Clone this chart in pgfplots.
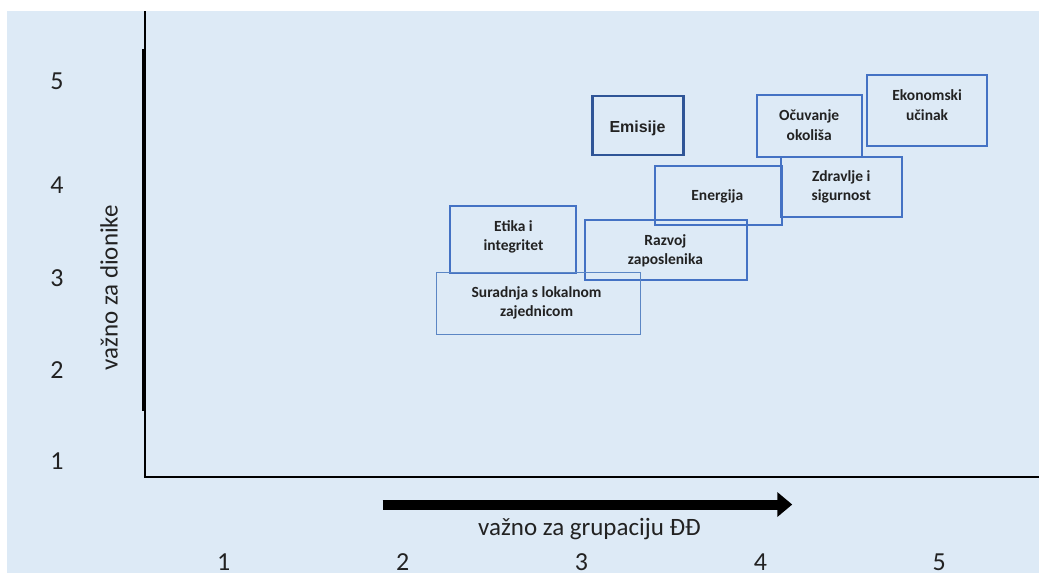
\documentclass[border=0pt]{standalone}
\usepackage{pgfplots}
\pgfplotsset{compat=1.18}
\usepackage{fontspec}
\setmainfont{Carlito}
\newfontfamily\arialfont{Liberation Sans}
\usetikzlibrary{arrows.meta}
\definecolor{bgblue}{HTML}{DDEAF6}
\definecolor{boxblue}{HTML}{4472C4}
\definecolor{darkblue}{HTML}{2F5597}
\definecolor{lightbox}{HTML}{5B86C4}
\definecolor{txt}{HTML}{222222}
\begin{document}
\begin{tikzpicture}
\begin{axis}[
  scale only axis, width=1040pt, height=574pt,
  xmin=-0.2496, xmax=5.5572, ymin=-0.1552, ymax=5.9060,
  axis line style={draw=none}, major tick length=0pt,
  axis background/.style={fill=bgblue},
  xtick={1,2,3,4,5}, xticklabels={1,2,3,4,5},
  ytick={1.03,2,2.97,3.95,5.05}, yticklabels={1,2,3,4,5},
  xticklabel style={anchor=center, yshift=11pt, font=\fontsize{26}{28}\selectfont, text=txt, inner sep=0pt},
  yticklabel style={anchor=center, xshift=57pt, font=\fontsize{26}{28}\selectfont, text=txt, inner sep=0pt},
  xlabel={važno za grupaciju ĐĐ},
  xlabel style={at={(axis description cs:0.5673,0.0767)}, anchor=center, font=\fontsize{25}{30}\selectfont, text=txt},
  ylabel={važno za dionike},
  ylabel style={at={(axis description cs:0.1048,0.4983)}, anchor=center, font=\fontsize{25}{30}\selectfont, text=txt},
  clip=false,
]
% white border strips
\fill[white] (rel axis cs:0,0) rectangle (rel axis cs:0.00673,1);
\fill[white] (rel axis cs:0,0.98084) rectangle (rel axis cs:1,1);
% axis lines
\draw[black, line width=1.6pt] (rel axis cs:0.13942,0.98084) -- (rel axis cs:0.13942,0.16899);
\draw[black, line width=3.5pt] (rel axis cs:0.13798,0.91463) -- (rel axis cs:0.13798,0.28397);
\draw[black, line width=2pt] (rel axis cs:0.13846,0.16899) -- (rel axis cs:1,0.16899);
% arrow
\draw[black, line width=10pt, -{Triangle[length=15pt,width=24pt]}] (rel axis cs:0.36827,0.12021) -- (rel axis cs:0.76250,0.12021);

% boxes
\addplot[darkblue, line width=2.6pt, mark=none] coordinates {(3.061,4.892) (3.570,4.892) (3.570,4.269) (3.061,4.269)} --cycle;
\addplot[boxblue, line width=2pt, mark=none] coordinates {(3.983,4.903) (4.569,4.903) (4.569,4.248) (3.983,4.248)} --cycle;
\addplot[boxblue, line width=2pt, mark=none] coordinates {(4.597,5.114) (5.267,5.114) (5.267,4.364) (4.597,4.364)} --cycle;
\addplot[boxblue, line width=2pt, mark=none] coordinates {(3.413,4.153) (4.122,4.153) (4.122,3.530) (3.413,3.530)} --cycle;
\addplot[boxblue, line width=2pt, mark=none] coordinates {(4.117,4.248) (4.792,4.248) (4.792,3.615) (4.117,3.615)} --cycle;
\addplot[boxblue, line width=2pt, mark=none] coordinates {(2.263,3.731) (2.972,3.731) (2.972,3.023) (2.263,3.023)} --cycle;
\addplot[boxblue, line width=2pt, mark=none] coordinates {(3.022,3.583) (3.927,3.583) (3.927,2.949) (3.022,2.949)} --cycle;
\addplot[lightbox, line width=1.2pt, mark=none] coordinates {(2.190,3.023) (3.329,3.023) (3.329,2.369) (2.190,2.369)} --cycle;

% labels
\node[text=txt, font=\arialfont\bfseries\fontsize{16}{19}\selectfont] at (axis cs:3.313,4.554) {Emisije};
\begin{scope}[every node/.style={text=txt, align=center, font=\bfseries\fontsize{15.5}{19.5}\selectfont}]
\node at (axis cs:4.273,4.586) {Očuvanje\\okoliša};
\node at (axis cs:4.932,4.797) {Ekonomski\\učinak};
\node at (axis cs:3.759,3.836) {Energija};
\node at (axis cs:4.452,3.931) {Zdravlje i\\sigurnost};
\node at (axis cs:2.620,3.403) {Etika i\\integritet};
\node at (axis cs:3.469,3.256) {Razvoj\\zaposlenika};
\node at (axis cs:2.749,2.706) {Suradnja s lokalnom\\zajednicom};
\end{scope}
\end{axis}
\end{tikzpicture}
\end{document}
